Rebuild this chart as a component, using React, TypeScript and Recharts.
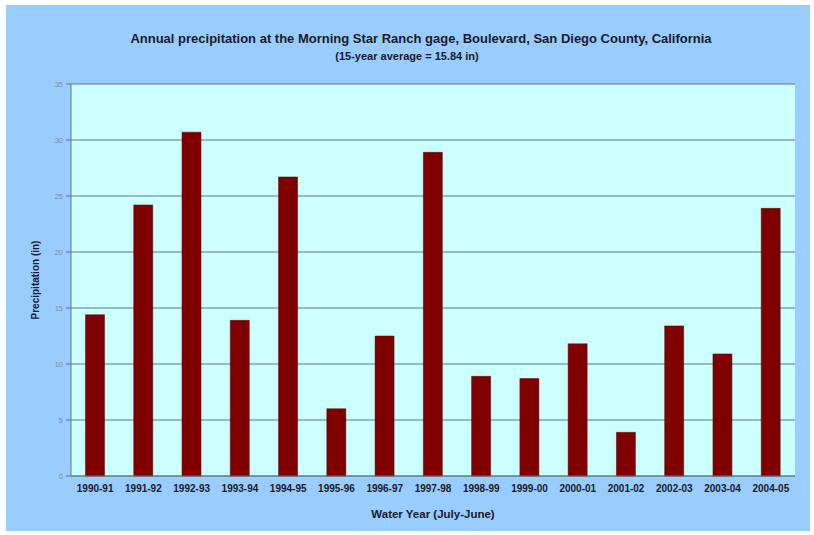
import { BarChart, Bar, XAxis, YAxis, CartesianGrid } from "recharts";

const waterYears = [
  "1990-91", "1991-92", "1992-93", "1993-94", "1994-95",
  "1995-96", "1996-97", "1997-98", "1998-99", "1999-00",
  "2000-01", "2001-02", "2002-03", "2003-04", "2004-05",
];

const precipitation = [
  14.4, 24.2, 30.7, 13.9, 26.7,
  6.0, 12.5, 28.9, 8.9, 8.7,
  11.8, 3.9, 13.4, 10.9, 23.9,
];

const yTicks = [0, 5, 10, 15, 20, 25, 30, 35];

const data = waterYears.map((year, i) => ({ year, value: precipitation[i] }));

const font = "'Liberation Sans', Arial, sans-serif";

export default function App() {
  return (
    <div
      style={{
        position: "absolute",
        left: 6,
        top: 5,
        width: 804,
        height: 526,
        background: "#99CCFF",
        fontFamily: font,
      }}
    >
      <div
        style={{
          position: "absolute",
          left: 15,
          width: 800,
          top: 26,
          textAlign: "center",
          fontSize: 13,
          fontWeight: "bold",
          color: "#1a1a2a",
          whiteSpace: "nowrap",
        }}
      >
        Annual precipitation at the Morning Star Ranch gage, Boulevard, San Diego County, California
      </div>
      <div
        style={{
          position: "absolute",
          left: 1,
          width: 800,
          top: 45,
          textAlign: "center",
          fontSize: 11,
          fontWeight: "bold",
          color: "#1a1a2a",
          whiteSpace: "nowrap",
        }}
      >
        (15-year average = 15.84 in)
      </div>
      <BarChart
        width={804}
        height={526}
        data={data}
        margin={{ top: 79, right: 15, left: 15, bottom: 0 }}
        barCategoryGap="30%"
      >
        <CartesianGrid
          vertical={false}
          stroke="#627a7a"
          strokeWidth={1.2}
          fill="#CCFFFF"
          fillOpacity={1}
        />
        <XAxis
          dataKey="year"
          height={55}
          tickLine={false}
          tickSize={0}
          tickMargin={9}
          axisLine={{ stroke: "#627a7a" }}
          interval={0}
          tick={{ fontSize: 10, fontWeight: "bold", fill: "#1a1a2a", fontFamily: font }}
          label={{
            value: "Water Year (July-June)",
            position: "insideBottom",
            offset: 13,
            style: { fontSize: 11.5, fontWeight: "bold", fill: "#1a1a2a", fontFamily: font },
          }}
        />
        <YAxis
          width={50}
          domain={[0, 35]}
          ticks={yTicks}
          interval={0}
          tickSize={5}
          tickMargin={3}
          tickLine={{ stroke: "#627a7a" }}
          axisLine={{ stroke: "#627a7a" }}
          tick={{ fontSize: 7.5, fill: "#8a8a8a", fontFamily: font }}
          label={{
            value: "Precipitation (in)",
            angle: -90,
            position: "insideLeft",
            offset: 14,
            style: { textAnchor: "middle", fontSize: 10, fontWeight: "bold", fill: "#1a1a2a", fontFamily: font },
          }}
        />
        <YAxis
          yAxisId="frame"
          orientation="right"
          width={0}
          tick={false}
          tickLine={false}
          axisLine={{ stroke: "#8fb0c8" }}
        />
        <Bar
          dataKey="value"
          fill="#800000"
          stroke="#5a0000"
          strokeWidth={0.5}
          isAnimationActive={false}
        />
      </BarChart>
    </div>
  );
}
